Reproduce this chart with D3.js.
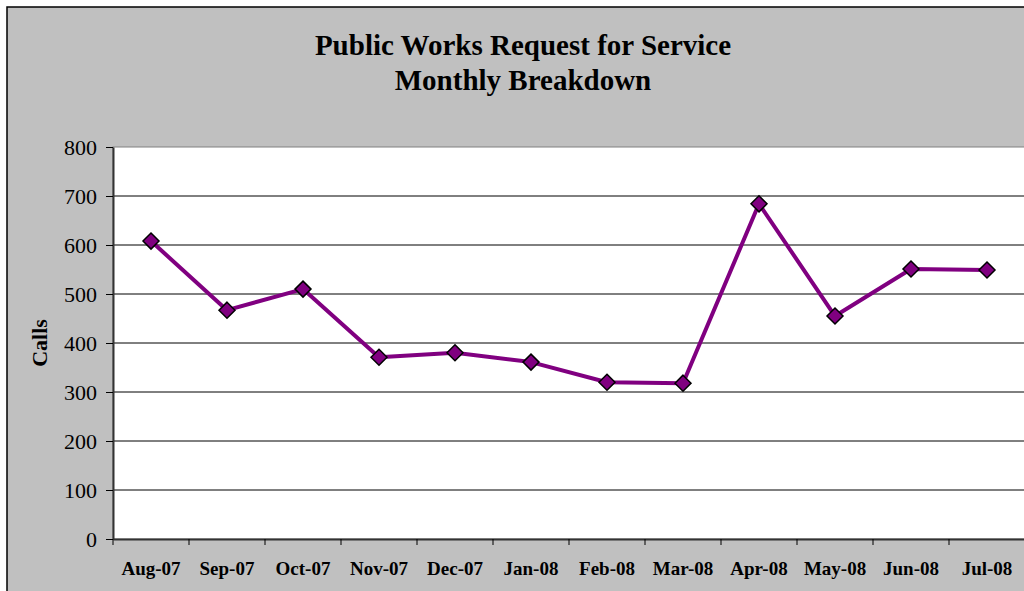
<!DOCTYPE html>
<html><head><meta charset="utf-8">
<script src="https://cdn.jsdelivr.net/npm/d3@7"></script>
<style>body{margin:0;background:#fff;overflow:hidden}</style>
</head><body>
<script>
const categories = ["Aug-07","Sep-07","Oct-07","Nov-07","Dec-07","Jan-08","Feb-08","Mar-08","Apr-08","May-08","Jun-08","Jul-08"];
const calls = [608,467,510,371,380,361,320,318,684,455,551,549];
const yTicks = [0,100,200,300,400,500,600,700,800];
const titleLines = ["Public Works Request for Service","Monthly Breakdown"];

const W=1024,H=591;
const svg=d3.select("body").append("svg").attr("width",W).attr("height",H);
svg.append("rect").attr("x",7).attr("y",7).attr("width",W+20).attr("height",H+20)
  .attr("fill","#c0c0c0").attr("stroke","#000").attr("stroke-width",1.5);

const pL=113, pT=147, pR=1025, pB=539;
const x=d3.scaleBand().domain(categories).range([pL,pR]);
const y=d3.scaleLinear().domain([0,800]).range([pB,pT]);

svg.append("rect").attr("x",pL).attr("y",pT).attr("width",pR-pL).attr("height",pB-pT)
  .attr("fill","#fff").attr("stroke","#808080").attr("stroke-width",1);

svg.append("g").selectAll("line").data(yTicks.filter(d=>d>0&&d<800)).join("line")
  .attr("x1",pL).attr("x2",pR).attr("y1",d=>y(d)).attr("y2",d=>y(d))
  .attr("stroke","#000").attr("stroke-width",1);

const ya=svg.append("g").attr("transform",`translate(${pL},0)`)
  .call(d3.axisLeft(y).tickValues(yTicks).tickSize(7).tickSizeOuter(0).tickPadding(9));
ya.select(".domain").attr("stroke","#333").attr("stroke-width",2);
ya.selectAll(".tick line").attr("stroke","#000");
ya.selectAll("text").attr("font-family","'Liberation Serif',serif").attr("font-size",22).attr("fill","#000");

const xa=svg.append("g").attr("transform",`translate(0,${pB})`)
  .call(d3.axisBottom(x).tickSize(0).tickSizeOuter(0).tickPadding(23));
xa.select(".domain").attr("stroke","#333").attr("stroke-width",2);
xa.selectAll(".tick line").remove();
xa.selectAll("text").attr("font-family","'Liberation Serif',serif").attr("font-size",19).attr("font-weight","bold").attr("fill","#000");
svg.append("g").selectAll("line").data(categories).join("line")
  .attr("x1",d=>x(d)).attr("x2",d=>x(d)).attr("y1",pB).attr("y2",pB+6)
  .attr("stroke","#000").attr("stroke-width",1);

const line=d3.line().x((d,i)=>x(categories[i])+x.bandwidth()/2).y(d=>y(d));
svg.append("path").datum(calls).attr("d",line).attr("fill","none")
  .attr("stroke","#800080").attr("stroke-width",4).attr("stroke-linejoin","round");

svg.append("g").selectAll("path").data(calls).join("path")
  .attr("transform",(d,i)=>`translate(${x(categories[i])+x.bandwidth()/2},${y(d)})`)
  .attr("d","M0,-8L8,0L0,8L-8,0Z").attr("fill","#800080").attr("stroke","#000").attr("stroke-width",1.5);

svg.append("text").attr("transform","translate(47,343) rotate(-90)").attr("text-anchor","middle")
  .attr("font-family","'Liberation Serif',serif").attr("font-size",22).attr("font-weight","bold").text("Calls");

svg.append("g").selectAll("text").data(titleLines).join("text")
  .attr("x",523).attr("y",(d,i)=>55+i*35).attr("text-anchor","middle")
  .attr("font-family","'Liberation Serif',serif").attr("font-size",29).attr("font-weight","bold").text(d=>d);
</script>
</body></html>
